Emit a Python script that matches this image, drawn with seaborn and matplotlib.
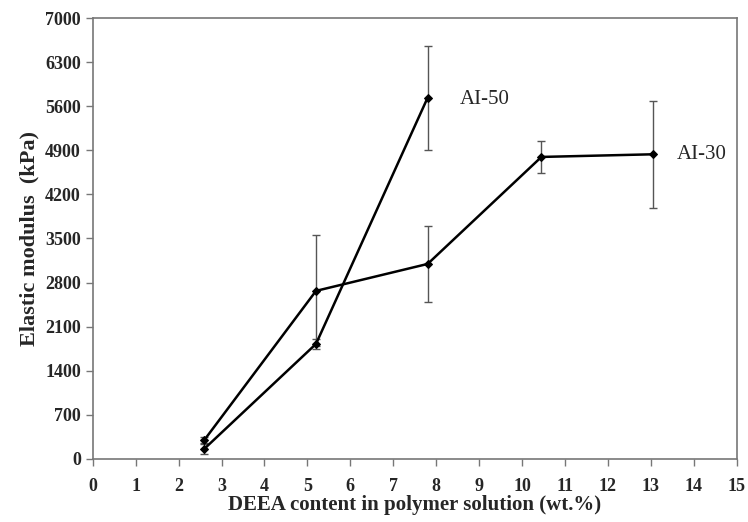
import matplotlib
matplotlib.use("Agg")
import matplotlib.pyplot as plt
import seaborn as sns
import pandas as pd

# data
deea = [2.6, 5.2, 7.8, 10.45, 13.05]
ai30_mod = [300, 2667, 3095, 4794, 4836]
ai30_err = [50, 880, 600, 250, 850]
ai50_x = [2.6, 5.2, 7.8]
ai50_mod = [160, 1825, 5735]
ai50_err = [80, 80, 825]

x_ticks = list(range(0, 16))
y_ticks = list(range(0, 7001, 700))

df30 = pd.DataFrame({"x": deea, "y": ai30_mod, "series": "AI-30"})
df50 = pd.DataFrame({"x": ai50_x, "y": ai50_mod, "series": "AI-50"})
df = pd.concat([df30, df50], ignore_index=True)

sns.set_style("white")
plt.rcParams["font.family"] = ["Liberation Serif", "DejaVu Serif"]

fig = plt.figure(figsize=(7.48, 5.22), dpi=100)
ax = fig.add_axes([0.124, 0.121, 0.861, 0.8445])

ax.errorbar(deea, ai30_mod, yerr=ai30_err, fmt="none", ecolor="#555555",
            elinewidth=1, capsize=3, capthick=1, zorder=1)
ax.errorbar(ai50_x, ai50_mod, yerr=ai50_err, fmt="none", ecolor="#555555",
            elinewidth=1, capsize=3, capthick=1, zorder=1)

sns.lineplot(data=df, x="x", y="y", units="series", estimator=None,
             color="black", linewidth=1.8, marker="D", markersize=4,
             markeredgecolor="black", ax=ax, zorder=2, legend=False)

ax.text(8.55, 5700, "AI-50", fontsize=15, va="center", ha="left")
ax.text(13.6, 4825, "AI-30", fontsize=15, va="center", ha="left")

ax.set_xlim(0, 15)
ax.set_ylim(0, 7000)
ax.set_xticks(x_ticks)
ax.set_yticks(y_ticks)
ax.tick_params(axis="both", direction="out", length=5, width=1, color="#777777",
               labelsize=13, bottom=True, left=True)
ax.tick_params(axis="x", pad=9)
for lab in ax.get_xticklabels() + ax.get_yticklabels():
    lab.set_fontweight("bold")

for s in ax.spines.values():
    s.set_color("#777777")
    s.set_linewidth(1.2)

ax.set_xlabel("DEEA content in polymer solution (wt.%)", fontsize=15,
              fontweight="bold", labelpad=0)
ax.set_ylabel("Elastic modulus  (kPa)", fontsize=16, fontweight="bold", labelpad=4)

fig.savefig("out.png", dpi=100)
